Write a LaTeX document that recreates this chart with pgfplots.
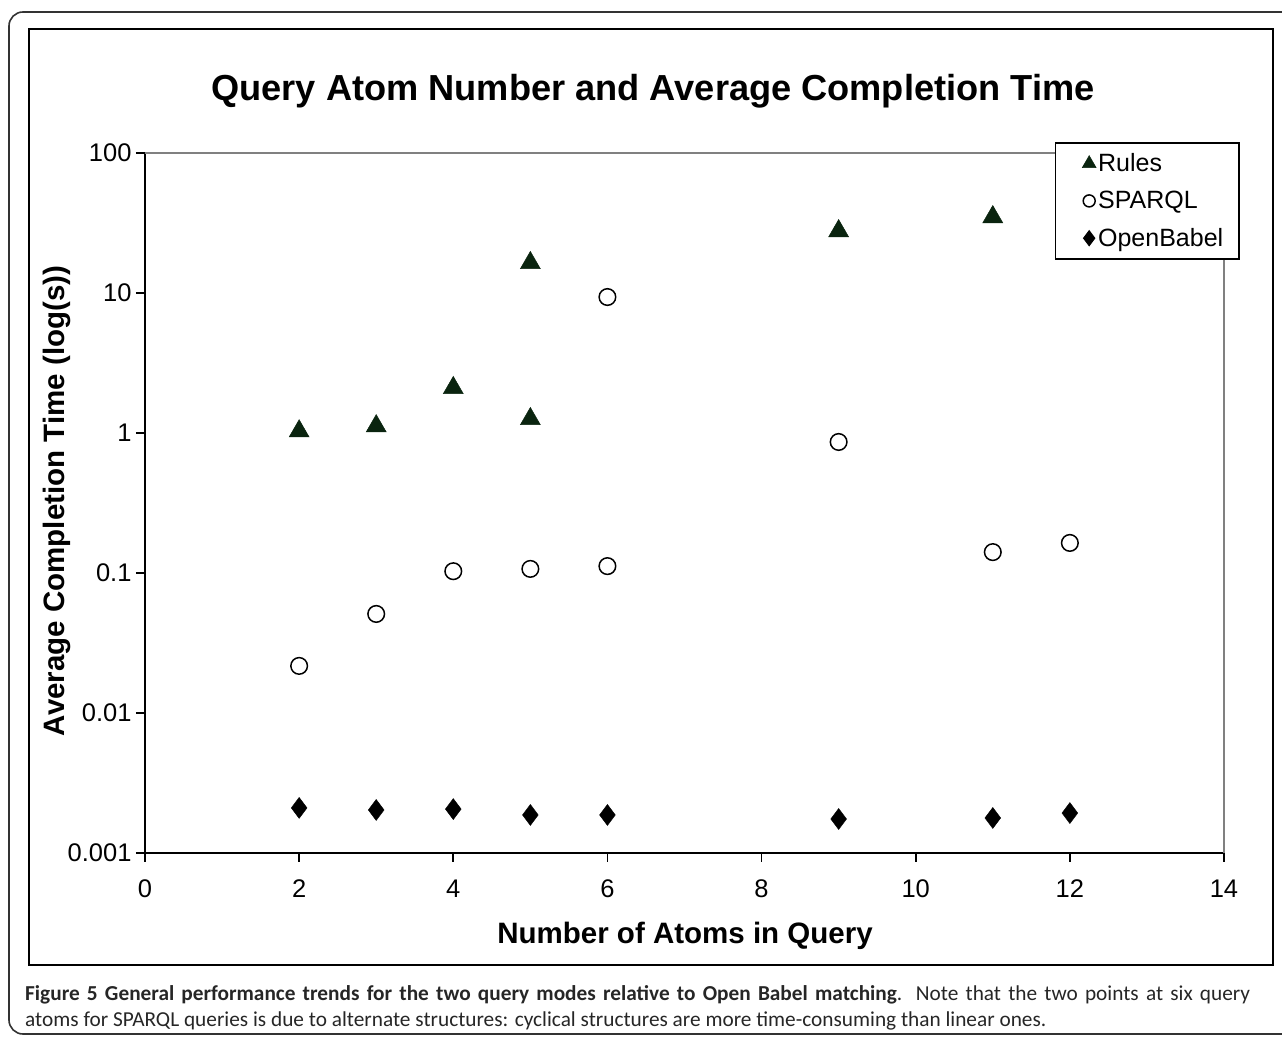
\documentclass[border=0pt]{standalone}
\usepackage{pgfplots}
\pgfplotsset{compat=1.18}
\usepackage{fontspec}
\setmainfont{Liberation Sans}
\newfontfamily\capfont{Carlito}

\definecolor{rulecol}{rgb}{0.04,0.14,0.06}

\begin{document}
\begin{tikzpicture}[x=1pt,y=1pt]
\useasboundingbox (0,0) rectangle (1282,1037);
% outer rounded frame and inner chart frame
\draw[line width=1.6pt, rounded corners=14pt, black!80] (9,3) rectangle (1300,1025);
\draw[line width=2pt] (29,72) rectangle (1273,1008);

\begin{axis}[
  at={(145pt,184pt)}, anchor=south west,
  scale only axis, width=1079pt, height=700pt,
  xmin=0, xmax=14, ymin=0.001, ymax=100,
  ymode=log, yminorticks=false,
  xtick={0,2,...,14},
  ytick={0.001,0.01,0.1,1,10,100},
  yticklabels={0.001,0.01,0.1,1,10,100},
  axis lines=left, axis line style={-, line width=1.8pt},
  tick align=outside, major tick length=9pt,
  tick style={line width=1.8pt, black},
  every tick label/.append style={font=\fontsize{25.5}{30}\selectfont},
  /pgf/number format/assume math mode=true,
  xticklabel style={yshift=-14pt},
  yticklabel style={xshift=-1pt},
  title={Query Atom Number and Average Completion Time},
  title style={at={(axis description cs:0.4708,1.080)}, anchor=center,
    font=\bfseries\fontsize{36.2}{42}\selectfont},
  xlabel={Number of Atoms in Query},
  xlabel style={at={(axis description cs:0.5005,-0.1186)}, anchor=center,
    font=\bfseries\fontsize{29.5}{34}\selectfont},
  ylabel={Average Completion Time (log(s))},
  ylabel style={at={(axis description cs:-0.0816,0.503)}, anchor=center,
    rotate=0, font=\bfseries\fontsize{29.5}{34}\selectfont},
  clip=false,
  legend cell align=left,
  legend style={at={(axis description cs:0.843,1.0157)}, anchor=north west,
    draw=black, line width=1.6pt, fill=white,
    font=\fontsize{25}{30}\selectfont,
    inner xsep=14pt, inner ysep=9pt, row sep=14pt,
    /tikz/every even column/.append style={column sep=0pt}},
  legend image code/.code={\path (0pt,0pt); \draw[#1, line width=1pt] plot coordinates {(19pt,0pt)};},
]
\draw[gray, line width=1.2pt] (rel axis cs:0,1) -- (rel axis cs:1,1) -- (rel axis cs:1,0);

\addplot[only marks, mark=triangle*, mark size=11.5pt,
  mark options={fill=rulecol, draw=rulecol, line width=0.5pt},
  legend image post style={mark size=8pt}] coordinates {
  (2,1.03) (3,1.12) (4,2.1) (5,16.4) (5,1.26) (9,27.7) (11,34.9)};
\addlegendentry{Rules}

\addplot[only marks, mark=o, mark size=8.3pt,
  mark options={fill=white, draw=black, line width=1.5pt},
  legend image post style={mark size=6pt}] coordinates {
  (2,0.0217) (3,0.051) (4,0.103) (5,0.107) (6,0.112) (6,9.36)
  (9,0.863) (11,0.141) (12,0.164)};
\addlegendentry{SPARQL}

\addplot[only marks, mark=diamond*, mark size=10.5pt,
  mark options={fill=black, draw=black},
  legend image post style={mark size=7.5pt}] coordinates {
  (2,0.00210) (3,0.00203) (4,0.00206) (5,0.00187) (6,0.00187)
  (9,0.00175) (11,0.00178) (12,0.00193)};
\addlegendentry{OpenBabel}
\end{axis}

% caption
\node[anchor=base west, inner sep=0pt, text width=1225pt, align=justify,
  font=\capfont\fontsize{21.3}{26}\selectfont, text=black!85] at (25,37)
  {\textbf{Figure 5 General performance trends for the two query modes relative to Open Babel matching}. Note that the two points at six query\linebreak
   atoms for SPARQL queries is due to alternate structures: cyclical structures are more time-consuming than linear ones.};
\end{tikzpicture}
\end{document}
